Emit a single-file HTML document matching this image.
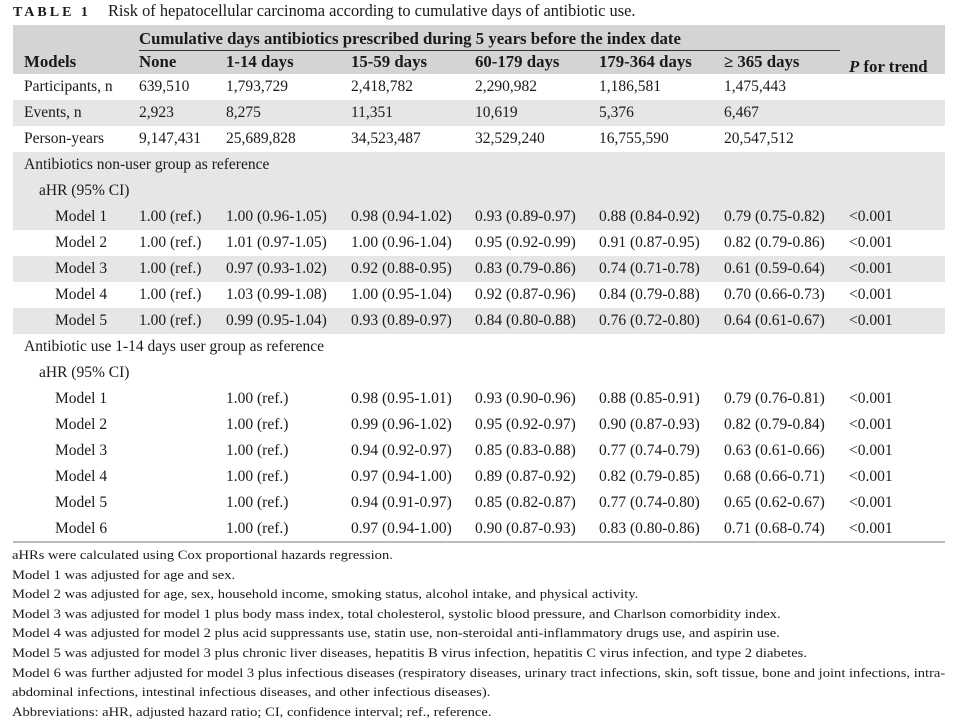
<!DOCTYPE html>
<html><head><meta charset="utf-8"><style>
body{margin:0;width:964px;height:720px;background:#fff;position:relative;font-family:"Liberation Serif",serif;color:#1a1a1a;overflow:hidden}
.a{position:absolute;white-space:nowrap}
.t{font-size:15.5px}
.b{font-weight:bold;font-size:16.8px}
.bg{position:absolute;left:13px;width:932px}
.f{position:absolute;left:12px;font-size:13px;white-space:nowrap;transform:scaleX(1.12);transform-origin:0 0}
</style></head><body>
<div class="a" style="left:13px;top:1px;font-size:16.4px"><b style="letter-spacing:3px;font-size:14px">TABLE 1</b><span style="margin-left:17px">Risk of hepatocellular carcinoma according to cumulative days of antibiotic use.</span></div>
<div class="bg" style="top:25px;height:49px;background:#d4d4d4"></div>
<div class="bg" style="top:100px;height:26px;background:#e6e6e6"></div>
<div class="bg" style="top:152px;height:78px;background:#e6e6e6"></div>
<div class="bg" style="top:256px;height:26px;background:#e6e6e6"></div>
<div class="bg" style="top:308px;height:26px;background:#e6e6e6"></div>
<div class="a" style="left:139px;top:50px;width:701px;height:1px;background:#333"></div>
<div class="a" style="left:13px;top:541px;width:932px;height:2px;background:#bbb"></div>
<div class="a b" style="left:139px;top:29px">Cumulative days antibiotics prescribed during 5 years before the index date</div>
<div id="rows"></div>
<script>
var X=[24,139,226,351,475,599,724,849];
var out='';
function row(y,cells,bold,indent){for(var i=0;i<cells.length;i++){if(cells[i]==='')continue;var x=X[i];if(i==0&&indent)x=indent;out+='<div class="a '+(bold?'b':'t')+'" style="left:'+x+'px;top:'+y+'px">'+cells[i]+'</div>';}}
row(52,['Models','None','1-14 days','15-59 days','60-179 days','179-364 days','&ge; 365 days'],1);
out+='<div class="a b" style="left:849px;top:57px"><i>P</i> for trend</div>';
var d=[['Participants, n','639,510','1,793,729','2,418,782','2,290,982','1,186,581','1,475,443'],
['Events, n','2,923','8,275','11,351','10,619','5,376','6,467'],
['Person-years','9,147,431','25,689,828','34,523,487','32,529,240','16,755,590','20,547,512']];
var y=78;
d.forEach(function(r){row(y,r);y+=26;});
row(y,['Antibiotics non-user group as reference']);y+=26;
row(y,['aHR (95% CI)'],0,39);y+=26;
var m=[['Model 1','1.00 (ref.)','1.00 (0.96-1.05)','0.98 (0.94-1.02)','0.93 (0.89-0.97)','0.88 (0.84-0.92)','0.79 (0.75-0.82)','&lt;0.001'],
['Model 2','1.00 (ref.)','1.01 (0.97-1.05)','1.00 (0.96-1.04)','0.95 (0.92-0.99)','0.91 (0.87-0.95)','0.82 (0.79-0.86)','&lt;0.001'],
['Model 3','1.00 (ref.)','0.97 (0.93-1.02)','0.92 (0.88-0.95)','0.83 (0.79-0.86)','0.74 (0.71-0.78)','0.61 (0.59-0.64)','&lt;0.001'],
['Model 4','1.00 (ref.)','1.03 (0.99-1.08)','1.00 (0.95-1.04)','0.92 (0.87-0.96)','0.84 (0.79-0.88)','0.70 (0.66-0.73)','&lt;0.001'],
['Model 5','1.00 (ref.)','0.99 (0.95-1.04)','0.93 (0.89-0.97)','0.84 (0.80-0.88)','0.76 (0.72-0.80)','0.64 (0.61-0.67)','&lt;0.001']];
m.forEach(function(r){row(y,r,0,55);y+=26;});
row(y,['Antibiotic use 1-14 days user group as reference']);y+=26;
row(y,['aHR (95% CI)'],0,39);y+=26;
var n=[['Model 1','','1.00 (ref.)','0.98 (0.95-1.01)','0.93 (0.90-0.96)','0.88 (0.85-0.91)','0.79 (0.76-0.81)','&lt;0.001'],
['Model 2','','1.00 (ref.)','0.99 (0.96-1.02)','0.95 (0.92-0.97)','0.90 (0.87-0.93)','0.82 (0.79-0.84)','&lt;0.001'],
['Model 3','','1.00 (ref.)','0.94 (0.92-0.97)','0.85 (0.83-0.88)','0.77 (0.74-0.79)','0.63 (0.61-0.66)','&lt;0.001'],
['Model 4','','1.00 (ref.)','0.97 (0.94-1.00)','0.89 (0.87-0.92)','0.82 (0.79-0.85)','0.68 (0.66-0.71)','&lt;0.001'],
['Model 5','','1.00 (ref.)','0.94 (0.91-0.97)','0.85 (0.82-0.87)','0.77 (0.74-0.80)','0.65 (0.62-0.67)','&lt;0.001'],
['Model 6','','1.00 (ref.)','0.97 (0.94-1.00)','0.90 (0.87-0.93)','0.83 (0.80-0.86)','0.71 (0.68-0.74)','&lt;0.001']];
n.forEach(function(r){row(y,r,0,55);y+=26;});
var f=['aHRs were calculated using Cox proportional hazards regression.','Model 1 was adjusted for age and sex.','Model 2 was adjusted for age, sex, household income, smoking status, alcohol intake, and physical activity.','Model 3 was adjusted for model 1 plus body mass index, total cholesterol, systolic blood pressure, and Charlson comorbidity index.','Model 4 was adjusted for model 2 plus acid suppressants use, statin use, non-steroidal anti-inflammatory drugs use, and aspirin use.','Model 5 was adjusted for model 3 plus chronic liver diseases, hepatitis B virus infection, hepatitis C virus infection, and type 2 diabetes.','Model 6 was further adjusted for model 3 plus infectious diseases (respiratory diseases, urinary tract infections, skin, soft tissue, bone and joint infections, intra-','abdominal infections, intestinal infectious diseases, and other infectious diseases).','Abbreviations: aHR, adjusted hazard ratio; CI, confidence interval; ref., reference.'];
f.forEach(function(s,i){out+='<div class="f" style="top:'+(547+i*19.6)+'px">'+s+'</div>';});
document.getElementById('rows').innerHTML=out;
</script>
</body></html>
